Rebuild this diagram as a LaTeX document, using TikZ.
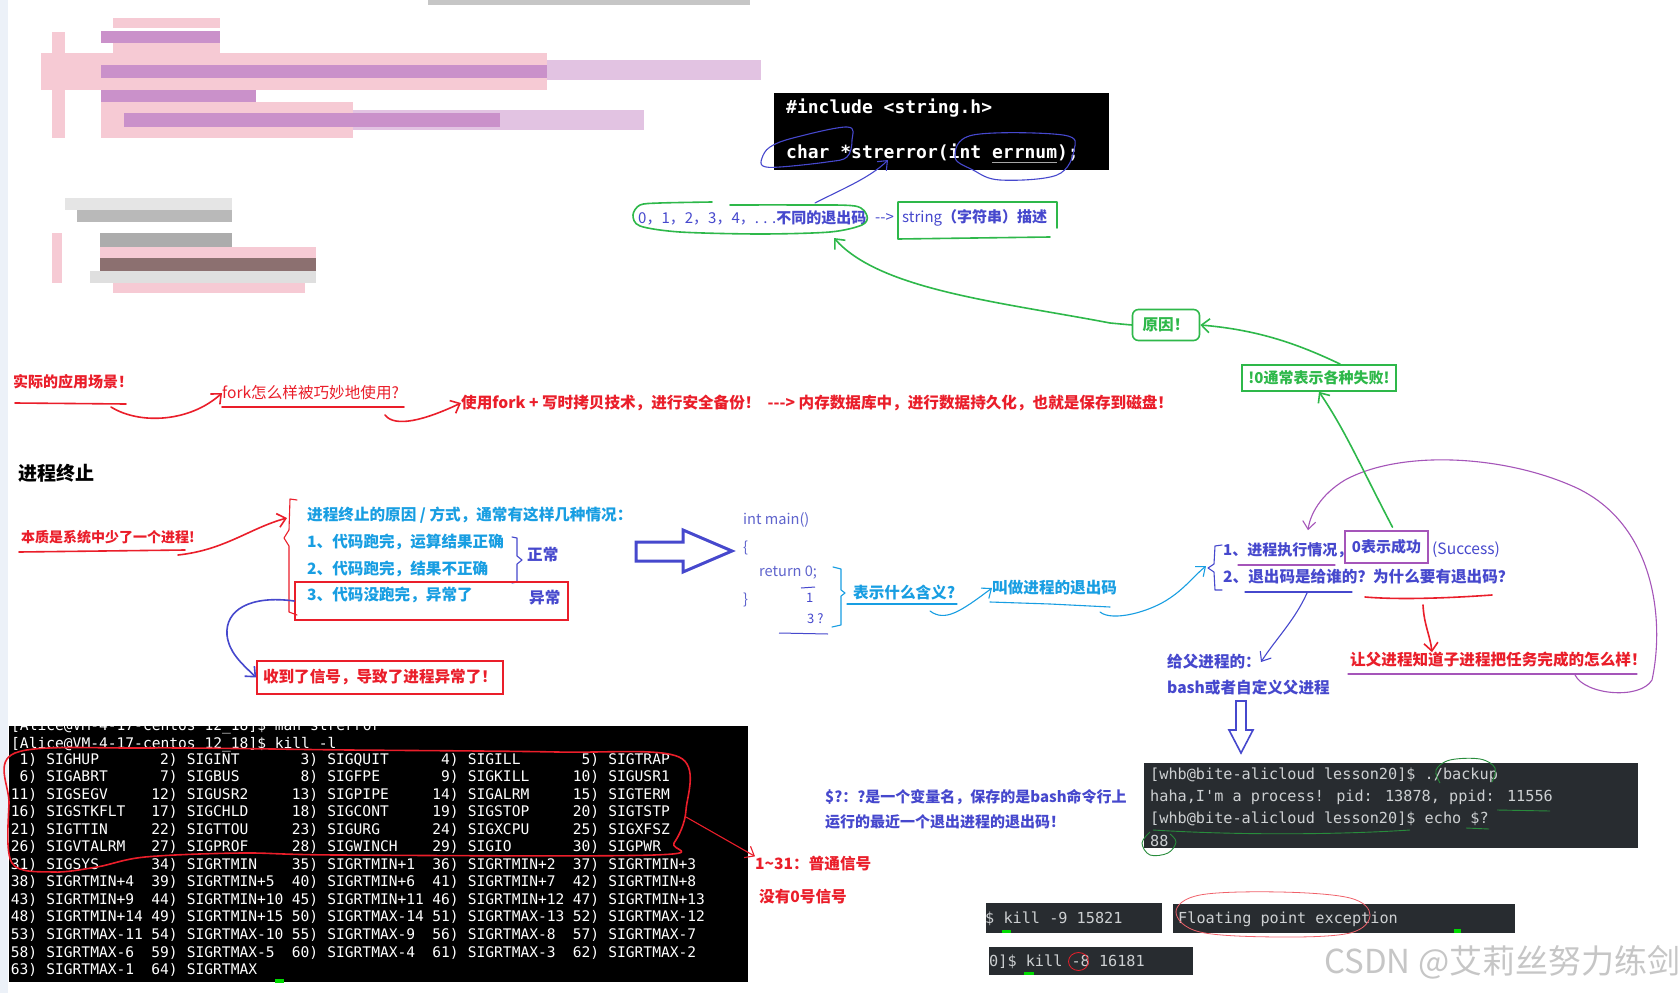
\documentclass[tikz,border=0pt]{standalone}
\usepackage{fontspec}
\setmainfont{Noto Sans CJK SC}
\newfontfamily\mono{DejaVu Sans Mono}
\usetikzlibrary{arrows.meta}
\definecolor{hred}{RGB}{234,30,42}
\definecolor{hblue}{RGB}{70,72,205}
\definecolor{vblue}{RGB}{95,100,205}
\definecolor{lblue}{RGB}{24,158,226}
\definecolor{hgreen}{RGB}{46,184,74}
\definecolor{dgreen}{RGB}{40,140,60}
\definecolor{hpurple}{RGB}{165,85,185}
\definecolor{term}{RGB}{40,44,48}
\definecolor{termtxt}{RGB}{205,208,210}
\definecolor{wm}{RGB}{198,198,198}
\definecolor{pinkA}{RGB}{246,202,212}
\definecolor{purpA}{RGB}{202,145,202}
\definecolor{purpB}{RGB}{226,195,226}
\definecolor{brownA}{RGB}{140,112,112}
\definecolor{strip}{RGB}{236,241,248}
\begin{document}
\begin{tikzpicture}[x=1pt,y=-1pt,
  lbl/.style={inner sep=0pt, anchor=west, font=\fontsize{15.6}{18}\selectfont},
  bl/.style={inner sep=0pt, anchor=west, font=\fontsize{15.6}{18}\selectfont\bfseries},
  codetxt/.style={inner sep=0pt, anchor=west, text=white, font=\mono\bfseries\fontsize{18}{20}\selectfont},
  sig/.style={inner sep=0pt, text=white, font=\mono\fontsize{14.6}{16}\selectfont},
  ttxt/.style={inner sep=0pt, anchor=west, text=termtxt, font=\mono\fontsize{15.2}{17}\selectfont},
  hand/.style={line width=1.6pt, line cap=round, line join=round},
  thin/.style={line width=1.1pt, line cap=round, line join=round},
  harrow/.style={hand, -{Straight Barb[length=8pt,width=14pt]}},
  tarrow/.style={thin, -{Straight Barb[length=8pt,width=13pt]}}]
\useasboundingbox (0,0) rectangle (1679,993);
\fill[white] (0,0) rectangle (1679,993);
\fill[strip] (0,0) rectangle (8,993);
\fill[gray!45] (428,0) rectangle (750,5);
% blurred blocks
\fill[pinkA] (113,18) rectangle (220,28);
\fill[purpA] (101,31) rectangle (220,43);
\fill[pinkA] (113,43) rectangle (220,54);
\fill[pinkA] (41,53) rectangle (547,90);
\fill[purpB] (547,60) rectangle (761,80);
\fill[purpA] (101,65) rectangle (547,78);
\fill[purpA] (101,90) rectangle (256,102);
\fill[pinkA] (101,102) rectangle (353,138);
\fill[purpB] (353,110) rectangle (644,130);
\fill[purpA] (124,113) rectangle (500,127);
\fill[pinkA] (52,32) rectangle (65,138);
\fill[gray!20] (65,198) rectangle (232,210);
\fill[gray!55] (77,210) rectangle (232,222);
\fill[gray!65] (100,233) rectangle (232,247);
\fill[pinkA] (100,247) rectangle (316,258);
\fill[brownA] (100,258) rectangle (316,271);
\fill[gray!25] (90,271) rectangle (316,283);
\fill[pinkA] (113,283) rectangle (305,293);
\fill[pinkA] (52,233) rectangle (62,283);

% code box
\node[fill=black, inner sep=0pt, minimum width=335pt, minimum height=77pt, anchor=north west] (codebg) at (774,93) {};
\node[codetxt] (inc) at (786,108) {\#include <string.h>};
\node[codetxt] (proto) at (786,152) {char *strerror(int errnum);};
\draw[gray!70, line width=1pt] (992,162) -- (1057,162);
\draw[hblue, thin] plot[smooth cycle, tension=0.6] coordinates {(762,158) (770,147) (793,138) (847,127) (852,140) (847,157) (827,162) (780,167) (763,166)};
\draw[hblue, thin] plot[smooth cycle, tension=0.6] coordinates {(955,157) (973,135) (1063,135) (1074,150) (1057,175) (1000,180) (973,170)};

% exit codes line
\node[lbl, text=hblue, font=\fontsize{15}{18}\selectfont] (codes) at (638,218) {0，1，2，3，4，. . .\textbf{不同的退出码}};
\node[lbl, text=hblue, font=\fontsize{15}{18}\selectfont] (dash) at (875,218) {-{}->};
\node[lbl, text=hblue, font=\fontsize{15}{18}\selectfont] (strdesc) at (902,218) {string\textbf{（字符串）描述}};
\draw[hgreen, hand] plot[smooth, tension=0.5] coordinates {(712,202) (660,203) (640,205) (633,215) (640,226) (680,232) (760,234) (830,232) (862,225) (867,216) (855,206) (800,205) (730,205)};
\draw[hgreen, hand] (1050,237) -- (898,239) -- (898,202) -- (1057,202) -- (1057,228);
\coordinate (a1s) at (815,203);
\coordinate (a1e) at (888,160);
\draw[hblue, tarrow] (a1s) .. controls (840,190) and (870,178) .. (a1e);

% reasons
\node[draw=hgreen, line width=1.6pt, rounded corners=6pt, minimum width=67pt, minimum height=31pt, inner sep=0pt, text=hgreen, font=\fontsize{15.6}{18}\selectfont\bfseries] (yuanyin) at (1166,325) {原因！};
\coordinate (loopb) at (834,238);
\draw[hgreen, harrow] (yuanyin.west) -- (1110,323) .. controls (1000,302) and (880,290) .. (loopb);
\node[draw=hgreen, line width=1.6pt, minimum width=154pt, minimum height=26pt, inner sep=0pt, text=hgreen, font=\fontsize{15}{18}\selectfont\bfseries] (fail) at (1319,378) {!0通常表示各种失败!};
\draw[hgreen, harrow] (1340,364) .. controls (1300,345) and (1260,330) .. (yuanyin.east);

% middle red row
\node[bl, text=hred, font=\fontsize{15}{17}\selectfont\bfseries] (scene) at (13,382) {实际的应用场景！};
\draw[hred, hand] (15,403) -- (126,404);
\coordinate (r1s) at (111,407);
\node[lbl, text=hred] (fork) at (222,393) {fork怎么样被巧妙地使用?};
\draw[hred, harrow] (r1s) .. controls (140,425) and (190,422) .. (fork.west);
\draw[hred, hand] (222,407) -- (404,407);
\coordinate (r2s) at (385,415);
\node[bl, text=hred] (backup) at (461,403) {使用fork + 写时拷贝技术，进行安全备份！ \ -{}-{}-{}> 内存数据库中，进行数据持久化，也就是保存到磁盘！};
\draw[hred, harrow] (r2s) .. controls (395,428) and (425,420) .. (backup.west);

% process termination
\node[inner sep=0pt, anchor=west, font=\fontsize{19}{22}\selectfont\bfseries] (title) at (18,473) {进程终止};
\node[bl, text=hred, font=\fontsize{14}{17}\selectfont\bfseries] (essence) at (21,537) {本质是系统中少了一个进程!};
\draw[hred, hand] (19,552) -- (185,550);
\coordinate (r3s) at (178,555);
\coordinate (r3e) at (287,518);
\draw[hred, harrow] (r3s) .. controls (225,550) and (250,528) .. (r3e);
\draw[hred, thin] (297,500) -- (290,499) -- (289,530) -- (284,538) -- (289,546) -- (289,612) -- (297,615);
\node[bl, text=lblue] (why) at (307,515) {进程终止的原因 / 方式，通常有这样几种情况：};
\node[bl, text=lblue] (c1) at (307,542) {1、代码跑完，运算结果正确};
\node[bl, text=lblue] (c2) at (307,569) {2、代码跑完，结果不正确};
\node[bl, text=lblue] (c3) at (307,595) {3、代码没跑完，异常了};
\draw[hblue, thin] (512,537) -- (517,538) -- (517,556) -- (522,560) -- (517,564) -- (517,582) -- (512,583);
\node[bl, text=hblue] (normal) at (527,555) {正常};
\node[bl, text=hblue] (abn) at (529,598) {异常};
\node[draw=hred, line width=1.6pt, minimum width=273pt, minimum height=38pt, inner sep=0pt] (c3box) at (431.5,601) {};
\node[draw=hred, line width=1.6pt, minimum width=246pt, minimum height=33pt, inner sep=0pt, text=hred, font=\fontsize{15.6}{18}\selectfont\bfseries] (signal) at (380,677.5) {收到了信号，导致了进程异常了！};
\draw[hblue, harrow] (c3box.west) .. controls (250,595) and (225,610) .. (227,635) .. controls (229,652) and (240,662) .. (signal.west);

% int main
\draw[hblue, line width=3pt, line join=miter] (636,542) -- (683,542) -- (683,530) -- (732,551) -- (683,572) -- (683,561) -- (636,561) -- cycle;
\node[lbl, text=vblue, font=\fontsize{14.6}{17}\selectfont] (intmain) at (743,520) {int main()};
\node[lbl, text=vblue, font=\fontsize{14.6}{17}\selectfont] (lbrace) at (743,548) {\{};
\node[lbl, text=vblue, font=\fontsize{14.6}{17}\selectfont] (ret) at (759,573) {return 0;};
\node[lbl, text=vblue, font=\fontsize{14.6}{17}\selectfont] (rbrace) at (743,600) {\}};
\node[lbl, text=hblue, font=\fontsize{13}{15}\selectfont] (one) at (806,598) {1};
\draw[hblue, line width=1pt] (801,588) -- (815,587);
\node[lbl, text=hblue, font=\fontsize{13}{15}\selectfont] (three) at (807,619) {3 ?};
\draw[hblue, line width=1pt] (779,633) -- (828,634);
\draw[lblue, thin] (833,567) -- (841,569) -- (841,590) -- (845,593) -- (841,596) -- (841,625) -- (832,627);
\node[bl, text=lblue] (meaning) at (853,593) {表示什么含义?};
\draw[lblue, thin] (847,604) -- (957,604);
\coordinate (b1s) at (930,611);
\node[bl, text=lblue] (exitc) at (992,588) {叫做进程的退出码};
\draw[lblue, tarrow] (b1s) .. controls (945,622) and (960,612) .. (exitc.west);
\draw[lblue, thin] (990,602) -- (1050,604) -- (1110,607);

% right side exit code section
\draw[hblue, thin] (1222,545) -- (1215,546) -- (1214,564) -- (1208,568) -- (1214,572) -- (1215,590) -- (1222,590);
\coordinate (bracepos) at (1206,566);
\draw[lblue, tarrow] (1100,612) .. controls (1112,622) and (1150,612) .. (1170,598) .. controls (1185,588) and (1195,575) .. (bracepos);
\node[bl, text=hblue, font=\fontsize{15}{18}\selectfont\bfseries] (q1) at (1223,550) {1、进程执行情况，};
\node[draw=hpurple, line width=1.6pt, minimum width=83pt, minimum height=32pt, inner sep=0pt, text=hblue, font=\fontsize{15}{18}\selectfont\bfseries] (succ) at (1386.5,547) {0表示成功};
\node[lbl, text=hblue] (success) at (1432,550) {(Success)};
\node[bl, text=hblue] (q2) at (1223,577) {2、退出码是给谁的？为什么要有退出码？};
\draw[hpurple, thin] (1238,565) -- (1335,565);
\draw[hblue, thin] (1245,592) -- (1352,592);
\draw[hred, hand] (1365,597) .. controls (1400,600) and (1450,598) .. (1492,595);
\node[bl, text=hred] (tell) at (1350,660) {让父进程知道子进程把任务完成的怎么样！};
\draw[hred, harrow] (1423,605) .. controls (1424,625) and (1430,635) .. (tell.north -| 1432,0);
\draw[hpurple, thin] (1348,674) -- (1637,674);
\draw[hpurple, tarrow] (1575,675) .. controls (1585,695) and (1640,700) .. (1652,680) .. controls (1665,620) and (1655,520) .. (1570,485) .. controls (1500,455) and (1400,450) .. (1345,480) .. controls (1320,495) and (1310,515) .. (succ.north west -| 1308,0);
\draw[hgreen, harrow] (succ.north) ++(6,-3) .. controls (1360,465) and (1345,430) .. (fail.south);
\node[bl, text=hblue] (parent) at (1167,662) {给父进程的：};
\node[bl, text=hblue] (bash) at (1167,688) {bash或者自定义父进程};
\draw[hblue, tarrow] (1307,593) .. controls (1295,620) and (1275,640) .. (parent.east);
\draw[hblue, line width=1.6pt, line join=miter] (1236,701) -- (1246,701) -- (1246,730) -- (1253,730) -- (1241,753) -- (1229,730) -- (1236,730) -- cycle;

% right terminal
\node[fill=term, inner sep=0pt, minimum width=494pt, minimum height=85pt, anchor=north west] (term1) at (1144,763) {};
\node[ttxt] (tl1) at (1150,775) {[whb@bite-alicloud lesson20]\$ ./backup};
\node[ttxt] (tl2) at (1150,797) {haha,I\textquotesingle m a process! pid: 13878, ppid: 11556};
\node[ttxt] (tl3) at (1150,819) {[whb@bite-alicloud lesson20]\$ echo \$?};
\node[ttxt] (tl4) at (1150,841) {88};
\draw[dgreen, line width=0.9pt] plot[smooth, tension=0.6] coordinates {(1440,783) (1436,770) (1450,760) (1480,759) (1495,768) (1492,782)};
\draw[dgreen, line width=0.9pt] (1497,810) -- (1550,811);
\draw[dgreen, line width=0.9pt] (1153,830) .. controls (1250,836) and (1350,834) .. (1410,830);
\draw[dgreen, line width=0.9pt] (1466,828) -- (1489,829);
\draw[dgreen, line width=0.9pt] plot[smooth, tension=0.6] coordinates {(1150,832) (1142,843) (1150,855) (1168,853) (1176,842) (1170,834)};
\node[bl, text=hblue, font=\fontsize{15}{17}\selectfont\bfseries] (dq1) at (825,797) {\$?：?是一个变量名，保存的是bash命令行上};
\node[bl, text=hblue, font=\fontsize{15}{17}\selectfont\bfseries] (dq2) at (825,822) {运行的最近一个退出进程的退出码！};

% small terminals
\node[fill=term, inner sep=0pt, minimum width=176pt, minimum height=30pt, anchor=north west] (term2) at (986,903) {};
\node[ttxt] (k9) at (985,919) {\$ kill -9 15821};
\fill[green!85!black] (1002,930) rectangle (1011,933);
\node[fill=term, inner sep=0pt, minimum width=342pt, minimum height=29pt, anchor=north west] (term3) at (1173,904) {};
\node[ttxt] (fpe) at (1178,919) {Floating point exception};
\fill[green!85!black] (1454,929) rectangle (1461,933);
\draw[hred!70, line width=0.8pt] plot[smooth cycle, tension=0.6] coordinates {(1176,912) (1200,895) (1280,892) (1350,898) (1370,915) (1350,933) (1280,937) (1200,932)};
\node[fill=term, inner sep=0pt, minimum width=204pt, minimum height=28pt, anchor=north west] (term4) at (989,947) {};
\node[ttxt] (k8) at (989,962) {0]\$ kill -8 16181};
\draw[hred, line width=0.8pt] (1078.5,961.5) ellipse [x radius=10, y radius=9];
\fill[green!85!black] (1024,972) rectangle (1034,975);
\node[inner sep=0pt, anchor=west, text=wm, font=\fontsize{33}{36}\selectfont] (wmark) at (1324,962) {CSDN @艾莉丝努力练剑};

% signal terminal
\node[fill=black, inner sep=0pt, minimum width=739pt, minimum height=256pt, anchor=north west] (sigbox) at (9,726) {};
\begin{scope}
\clip (9,726) rectangle (748,982);
\node[sig, anchor=base west] (s0) at (11,730) {[Alice@VM-4-17-centos 12\_18]\$ man strerror};
\end{scope}
\node[sig, anchor=base west] (s1) at (11,748) {[Alice@VM-4-17-centos 12\_18]\$ kill -l};
\foreach \r/\c/\n/\s [evaluate=\c as \xn using 11+140.5*\c+3*8.78, evaluate=\c as \xs using 11+140.5*\c+4*8.78, evaluate=\r as \yy using 764+17.55*\r] in {
0/0/1/SIGHUP,0/1/2/SIGINT,0/2/3/SIGQUIT,0/3/4/SIGILL,0/4/5/SIGTRAP,
1/0/6/SIGABRT,1/1/7/SIGBUS,1/2/8/SIGFPE,1/3/9/SIGKILL,1/4/10/SIGUSR1,
2/0/11/SIGSEGV,2/1/12/SIGUSR2,2/2/13/SIGPIPE,2/3/14/SIGALRM,2/4/15/SIGTERM,
3/0/16/SIGSTKFLT,3/1/17/SIGCHLD,3/2/18/SIGCONT,3/3/19/SIGSTOP,3/4/20/SIGTSTP,
4/0/21/SIGTTIN,4/1/22/SIGTTOU,4/2/23/SIGURG,4/3/24/SIGXCPU,4/4/25/SIGXFSZ,
5/0/26/SIGVTALRM,5/1/27/SIGPROF,5/2/28/SIGWINCH,5/3/29/SIGIO,5/4/30/SIGPWR,
6/0/31/SIGSYS,6/1/34/SIGRTMIN,6/2/35/SIGRTMIN+1,6/3/36/SIGRTMIN+2,6/4/37/SIGRTMIN+3,
7/0/38/SIGRTMIN+4,7/1/39/SIGRTMIN+5,7/2/40/SIGRTMIN+6,7/3/41/SIGRTMIN+7,7/4/42/SIGRTMIN+8,
8/0/43/SIGRTMIN+9,8/1/44/SIGRTMIN+10,8/2/45/SIGRTMIN+11,8/3/46/SIGRTMIN+12,8/4/47/SIGRTMIN+13,
9/0/48/SIGRTMIN+14,9/1/49/SIGRTMIN+15,9/2/50/SIGRTMAX-14,9/3/51/SIGRTMAX-13,9/4/52/SIGRTMAX-12,
10/0/53/SIGRTMAX-11,10/1/54/SIGRTMAX-10,10/2/55/SIGRTMAX-9,10/3/56/SIGRTMAX-8,10/4/57/SIGRTMAX-7,
11/0/58/SIGRTMAX-6,11/1/59/SIGRTMAX-5,11/2/60/SIGRTMAX-4,11/3/61/SIGRTMAX-3,11/4/62/SIGRTMAX-2,
12/0/63/SIGRTMAX-1,12/1/64/SIGRTMAX}
{
  \node[sig, anchor=base east] (n-\r-\c) at (\xn,\yy) {\n)};
  \node[sig, anchor=base west] (m-\r-\c) at (\xs,\yy) {\s};
}
\fill[green!85!black] (275,979) rectangle (284,983);
\draw[hred, hand] plot[smooth cycle, tension=0.55] coordinates {(15,753) (145,748) (350,750) (557,752) (679,757) (686,810) (674,843) (654,855) (339,855) (242,853) (145,857) (97,867) (53,872) (12,863) (9,803)};
\coordinate (sigr) at (686,817);
\node[bl, text=hred] (normsig) at (755,864) {1\textasciitilde 31：普通信号};
\node[bl, text=hred] (nozero) at (759,897) {没有0号信号};
\draw[hred, tarrow] (sigr) -- (normsig.north west);
\end{tikzpicture}
\end{document}
